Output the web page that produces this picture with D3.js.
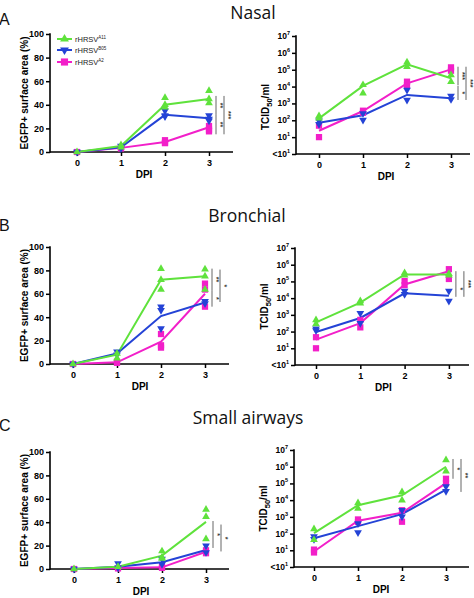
<!DOCTYPE html>
<html><head><meta charset="utf-8">
<script src="https://cdn.jsdelivr.net/npm/d3@7"></script>
<style>body{margin:0;background:#fff}svg{display:block}</style>
</head><body>
<svg id="c" width="474" height="598"></svg>
<script>
// ---------- DATA ----------
const days = [0, 1, 2, 3];
const seriesNames = ["A11", "B05", "A2"];
const panelTitles = ["Nasal", "Bronchial", "Small airways"];
const panelLetters = ["A", "B", "C"];
const egfpTicks = [0, 20, 40, 60, 80, 100];
const tcidTicks = [1, 10, 1e2, 1e3, 1e4, 1e5, 1e6, 1e7];
const tcidTickBase = ["<10", "10", "10", "10", "10", "10", "10", "10"];
const tcidTickExp = ["1", "1", "2", "3", "4", "5", "6", "7"];

// EGFP+ surface area (%) — means per series [A11, B05, A2] and replicate points per day
const nasalEgfpMeans = [[0, 5, 40, 45], [0, 4, 31.5, 28.5], [0, 3.5, 8.5, 21]];
const nasalEgfpPoints = [
  [[0], [6, 4], [46, 40, 38], [52, 41.5, 45]],
  [[0], [5, 3], [35, 31, 30], [31, 26.5, 28]],
  [[0], [3, 4], [10, 7.5, 8], [22, 19, 17.5]]
];
const bronchEgfpMeans = [[0, 8, 72, 75], [0, 9, 41, 52.5], [0, 1.4, 19, 60]];
const bronchEgfpPoints = [
  [[0], [5, 9], [81.5, 72, 63.6], [81, 75, 63.6]],
  [[0], [10.5, 8], [49, 46, 30.4], [53.7, 51.7]],
  [[0], [1, 2], [25.6, 16, 14], [68.7, 63.6, 49]]
];
const smallEgfpMeans = [[0, 2, 11.4, 40.3], [0, 2, 5.7, 16.2], [0, 0.8, 1.4, 14.8]];
const smallEgfpPoints = [
  [[0], [2], [15.3, 10, 9], [50.8, 44.6, 25.6]],
  [[0], [4.8, 1], [8.5, 4], [19.9, 14.2]],
  [[0], [0.5], [1, 2], [16, 13.5]]
];

// TCID50/ml
const nasalTcidMeans = [[130, 1.1e4, 2.1e5, 3.1e4], [72, 200, 3200, 2000], [24, 355, 1.55e4, 1.05e5]];
const nasalTcidPoints = [
  [[180, 130], [1.26e4, 4000], [2.8e5, 1.5e5], [4.8e4, 1.95e4]],
  [[95, 58], [105, 257], [6300, 1600], [2750, 1740]],
  [[48, 10], [370, 280], [1.95e4, 1.23e4], [1.38e5, 8.7e4]]
];
const bronchTcidMeans = [[355, 5400, 2.6e5, 2.6e5], [95, 650, 1.95e4, 1.4e4], [33, 320, 6.6e4, 4.1e5]];
const bronchTcidPoints = [
  [[500, 280], [6800, 4900], [3.2e5, 2.3e5], [2.9e5, 2.3e5]],
  [[150, 115], [1260, 316], [2.7e4, 1.7e4], [2.7e4, 6800]],
  [[46, 10], [178, 500], [1.05e5, 6e4], [5.4e5, 1.4e5]]
];
const smallTcidMeans = [[105, 5000, 1.95e4, 1e6], [52, 280, 1450, 4.2e4], [8.5, 590, 1740, 1.05e5]];
const smallTcidPoints = [
  [[186, 42], [6800, 3200], [3.1e4, 9800], [2.5e6, 5.4e5]],
  [[66, 46], [115, 400], [2500, 1000], [6.6e4, 3.4e4]],
  [[11, 7.4], [700, 500], [510, 2500], [1.9e5, 1.05e5]]
];

// significance brackets: [from, to, label, level(0 inner / 1 outer)]
const nasalEgfpSig = [[47.5, 31.5, "**", 0], [31.5, 15, "**", 0], [47.5, 15, "***", 1]];
const nasalTcidSig = [[1.5e5, 1.2e4, "***", 0], [1.1e4, 1.6e3, "*", 0], [1.5e5, 1.6e3, "***", 1]];
const bronchEgfpSig = [[81.5, 63, "**", 0], [63, 49, "*", 0], [80.7, 53, "*", 1]];
const bronchTcidSig = [[4.1e5, 1.05e5, "", 0], [1.05e5, 1.2e4, "*", 0], [4.1e5, 1.2e4, "***", 1]];
const smallEgfpSig = [[41, 18, "*", 0], [38, 15, "*", 1]];
const smallTcidSig = [[2.9e6, 1.9e5, "*", 0], [2.9e6, 3.1e4, "**", 1]];

// ---------- STYLE / LAYOUT ----------
const colors = ["#5fe23c", "#2443d6", "#f21fc9"];
const FONT = "'Liberation Sans', Arial, Helvetica, sans-serif";
const layout = [
  {l: 50, r: 233, t0: 77, s: 44, yt: 34, yb: 152, lab: 25, shift: 0},
  {l: 296, r: 470, t0: 319, s: 44, yt: 36, yb: 154, lab: 266, shift: 12},
  {l: 50, r: 229, t0: 73, s: 44, yt: 247, yb: 364, lab: 25, shift: 0},
  {l: 295, r: 469, t0: 316, s: 44.3, yt: 248, yb: 365, lab: 265, shift: 0},
  {l: 50, r: 229, t0: 74, s: 44, yt: 452, yb: 569, lab: 25, shift: 0},
  {l: 294, r: 469, t0: 314, s: 44, yt: 450, yb: 567, lab: 264, shift: 0}
];
const titlePos = [{x: 253, y: 19}, {x: 247, y: 222}, {x: 248, y: 424}];
const letterPos = [{y: 25}, {y: 231}, {y: 431}];

const svg = d3.select("#c");

function symbolPath(i, size) {
  if (i === 2) return d3.symbol(d3.symbolSquare, size * 1.5)();
  return d3.symbol(d3.symbolTriangle, size)();
}

function drawPanel(p, kind, means, points, sig) {
  const x = d3.scaleLinear().domain([0, 3]).range([p.t0, p.t0 + 3 * p.s]);
  const y = kind === "egfp"
    ? d3.scaleLinear().domain([0, 100]).range([p.yb, p.yt])
    : d3.scaleLog().domain([1, 1e7]).range([p.yb, p.yt]);
  const g = svg.append("g");

  // x axis
  const xa = g.append("g").attr("transform", `translate(0,${p.yb})`)
    .call(d3.axisBottom(x).tickValues(days).tickSize(4).tickPadding(4).tickFormat(d3.format("d")));
  xa.select(".domain").remove();
  xa.selectAll("line").attr("stroke", "#000").attr("stroke-width", 1.5);
  xa.selectAll("text").attr("font-family", FONT).attr("font-size", 9).attr("font-weight", "bold").attr("fill", "#000");
  g.append("line").attr("x1", p.l).attr("x2", p.r).attr("y1", p.yb).attr("y2", p.yb)
    .attr("stroke", "#000").attr("stroke-width", 1.6);

  // y axis
  const ya = g.append("g").attr("transform", `translate(${p.l},0)`);
  if (kind === "egfp") {
    ya.call(d3.axisLeft(y).tickValues(egfpTicks).tickSize(4).tickPadding(2).tickFormat(d3.format("d")));
    ya.selectAll("text").attr("font-family", FONT).attr("font-size", 9).attr("font-weight", "bold").attr("fill", "#000");
  } else {
    ya.call(d3.axisLeft(y).tickValues(tcidTicks).tickSize(4).tickFormat(() => ""));
    tcidTicks.forEach((t, i) => {
      const tx = ya.append("text").attr("x", -6).attr("y", y(t) + 3)
        .attr("text-anchor", "end").attr("font-family", FONT).attr("font-size", 8.5)
        .attr("font-weight", "bold").attr("fill", "#000");
      tx.append("tspan").text(tcidTickBase[i]);
      tx.append("tspan").attr("dy", -4).attr("font-size", 5.5).text(tcidTickExp[i]);
    });
  }
  ya.select(".domain").remove();
  ya.selectAll("line").attr("stroke", "#000").attr("stroke-width", 1.5);
  g.append("line").attr("x1", p.l).attr("x2", p.l).attr("y1", p.yb + 0.8).attr("y2", p.yt - 0.8)
    .attr("stroke", "#000").attr("stroke-width", 1.6);

  // axis titles
  g.append("text").attr("x", (p.t0 + p.t0 + 3 * p.s) / 2 + 1).attr("y", p.yb + 26)
    .attr("text-anchor", "middle").attr("font-family", FONT).attr("font-size", 10)
    .attr("font-weight", "bold").text("DPI");
  const yl = g.append("text")
    .attr("transform", `translate(${p.lab + 3},${(p.yt + p.yb) / 2 + p.shift}) rotate(-90)`)
    .attr("text-anchor", "middle").attr("font-family", FONT).attr("font-size", 10)
    .attr("font-weight", "bold");
  if (kind === "egfp") {
    yl.text("EGFP+ surface area (%)");
  } else {
    yl.append("tspan").text("TCID");
    yl.append("tspan").attr("dy", 3).attr("font-size", 7.5).text("50");
    yl.append("tspan").attr("dy", -3).text("/ml");
  }

  // mean lines
  const line = d3.line().x((d, i) => x(days[i])).y(d => y(d));
  [2, 1, 0].forEach(si => {
    g.append("path").datum(means[si]).attr("d", line)
      .attr("fill", "none").attr("stroke", colors[si]).attr("stroke-width", 2);
  });
  // replicate points
  [2, 1, 0].forEach(si => {
    points[si].forEach((vals, di) => {
      vals.forEach(v => {
        g.append("path").attr("d", symbolPath(si, 26))
          .attr("transform", `translate(${x(days[di])},${y(v)})${si === 1 ? " rotate(180)" : ""}`)
          .attr("fill", colors[si]);
      });
    });
  });

  // significance brackets
  sig.forEach(([a, b, lab, lvl]) => {
    const bx = x(3) + (lvl === 0 ? 7 : 15);
    g.append("line").attr("x1", bx).attr("x2", bx).attr("y1", y(a)).attr("y2", y(b))
      .attr("stroke", "#555").attr("stroke-width", 0.9);
    if (lab) {
      g.append("text")
        .attr("transform", `translate(${bx + 2},${(y(a) + y(b)) / 2}) rotate(90)`)
        .attr("text-anchor", "middle").attr("font-family", FONT).attr("font-size", 7)
        .attr("font-weight", "bold").attr("fill", "#333").text(lab);
    }
  });
  return {x, y};
}

drawPanel(layout[0], "egfp", nasalEgfpMeans, nasalEgfpPoints, nasalEgfpSig);
drawPanel(layout[1], "tcid", nasalTcidMeans, nasalTcidPoints, nasalTcidSig);
drawPanel(layout[2], "egfp", bronchEgfpMeans, bronchEgfpPoints, bronchEgfpSig);
drawPanel(layout[3], "tcid", bronchTcidMeans, bronchTcidPoints, bronchTcidSig);
drawPanel(layout[4], "egfp", smallEgfpMeans, smallEgfpPoints, smallEgfpSig);
drawPanel(layout[5], "tcid", smallTcidMeans, smallTcidPoints, smallTcidSig);

// titles and letters
panelTitles.forEach((t, i) => {
  svg.append("text").attr("x", titlePos[i].x).attr("y", titlePos[i].y)
    .attr("text-anchor", "middle").attr("font-family", "'Open Sans', 'Noto Sans', sans-serif")
    .attr("font-size", 17.5).attr("fill", "#111").text(t);
  svg.append("text").attr("x", -1).attr("y", letterPos[i].y)
    .attr("font-family", FONT).attr("font-size", 16).attr("fill", "#111").text(panelLetters[i]);
});

// legend (panel A, left)
const legY = [39, 50, 62];
seriesNames.forEach((n, i) => {
  const lg = svg.append("g");
  lg.append("line").attr("x1", 57).attr("x2", 72).attr("y1", legY[i]).attr("y2", legY[i])
    .attr("stroke", colors[i]).attr("stroke-width", 2);
  lg.append("path").attr("d", symbolPath(i, 34))
    .attr("transform", `translate(64.5,${legY[i]})${i === 1 ? " rotate(180)" : ""}`)
    .attr("fill", colors[i]);
  const t = lg.append("text").attr("x", 75).attr("y", legY[i] + 3)
    .attr("font-family", FONT).attr("font-size", 7.5).attr("fill", "#222");
  t.append("tspan").text("rHRSV");
  t.append("tspan").attr("dy", -3).attr("font-size", 4.5).text(n);
});
</script>
</body></html>
